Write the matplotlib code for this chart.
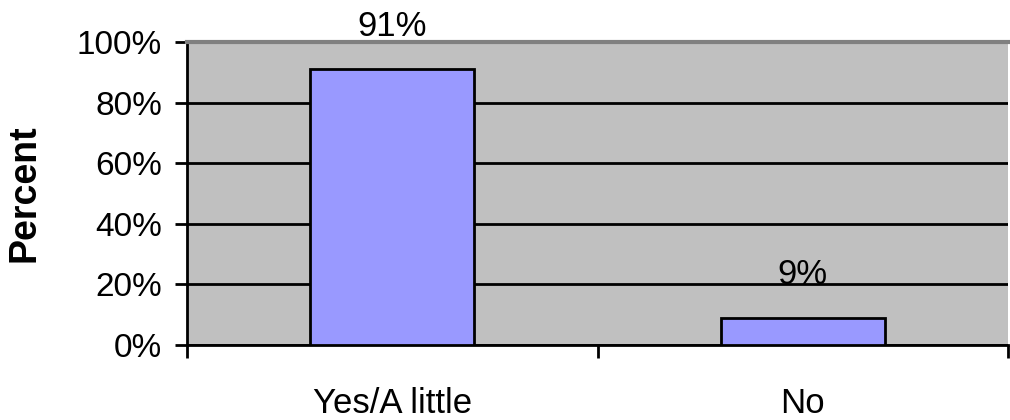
import matplotlib.pyplot as plt
import numpy as np

# Ответы и доли (в процентах)
categories = ['Yes/A little', 'No']
percents = [91, 9]
y_ticks = [0, 20, 40, 60, 80, 100]

plt.rcParams['font.family'] = ['Liberation Sans', 'DejaVu Sans']

fig = plt.figure(figsize=(10.1, 4.2), dpi=100)
ax = fig.add_axes([187 / 1010, 75 / 420, (1008 - 187) / 1010, (345 - 42) / 420])
ax.set_facecolor('#c0c0c0')

x = np.arange(len(categories))
ax.bar(x, percents, width=0.40, color='#9999ff', edgecolor='black', linewidth=2, zorder=3)

# Подписи значений над столбцами
for xi, p in zip(x, percents):
    ax.text(xi, p + 11, f'{p}%', ha='center', va='baseline', fontsize=25, zorder=4)

ax.set_xlim(-0.5, -0.5 + (1008 - 187) / 417)
ax.set_ylim(0, 100)

ax.set_yticks(y_ticks)
ax.set_yticklabels([f'{t}%' for t in y_ticks], fontsize=24)
ax.yaxis.grid(True, color='black', linewidth=2, zorder=1)
ax.set_axisbelow(True)

ax.set_xticks(x)
ax.set_xticklabels(categories, fontsize=25)
ax.set_xticks([-0.5, 0.5, 1.5], minor=True)
ax.tick_params(axis='x', which='major', length=0, pad=30)
ax.tick_params(axis='x', which='minor', length=9, width=2, direction='out')
ax.tick_params(axis='y', length=9, width=2, direction='out', pad=9)

ax.set_ylabel('Percent', fontsize=27, fontweight='bold', labelpad=25)

ax.spines['left'].set_linewidth(2)
ax.spines['bottom'].set_linewidth(2)
ax.spines['top'].set_color('#808080')
ax.spines['top'].set_linewidth(3)
ax.spines['right'].set_visible(False)

plt.savefig('out.png', dpi=100)
